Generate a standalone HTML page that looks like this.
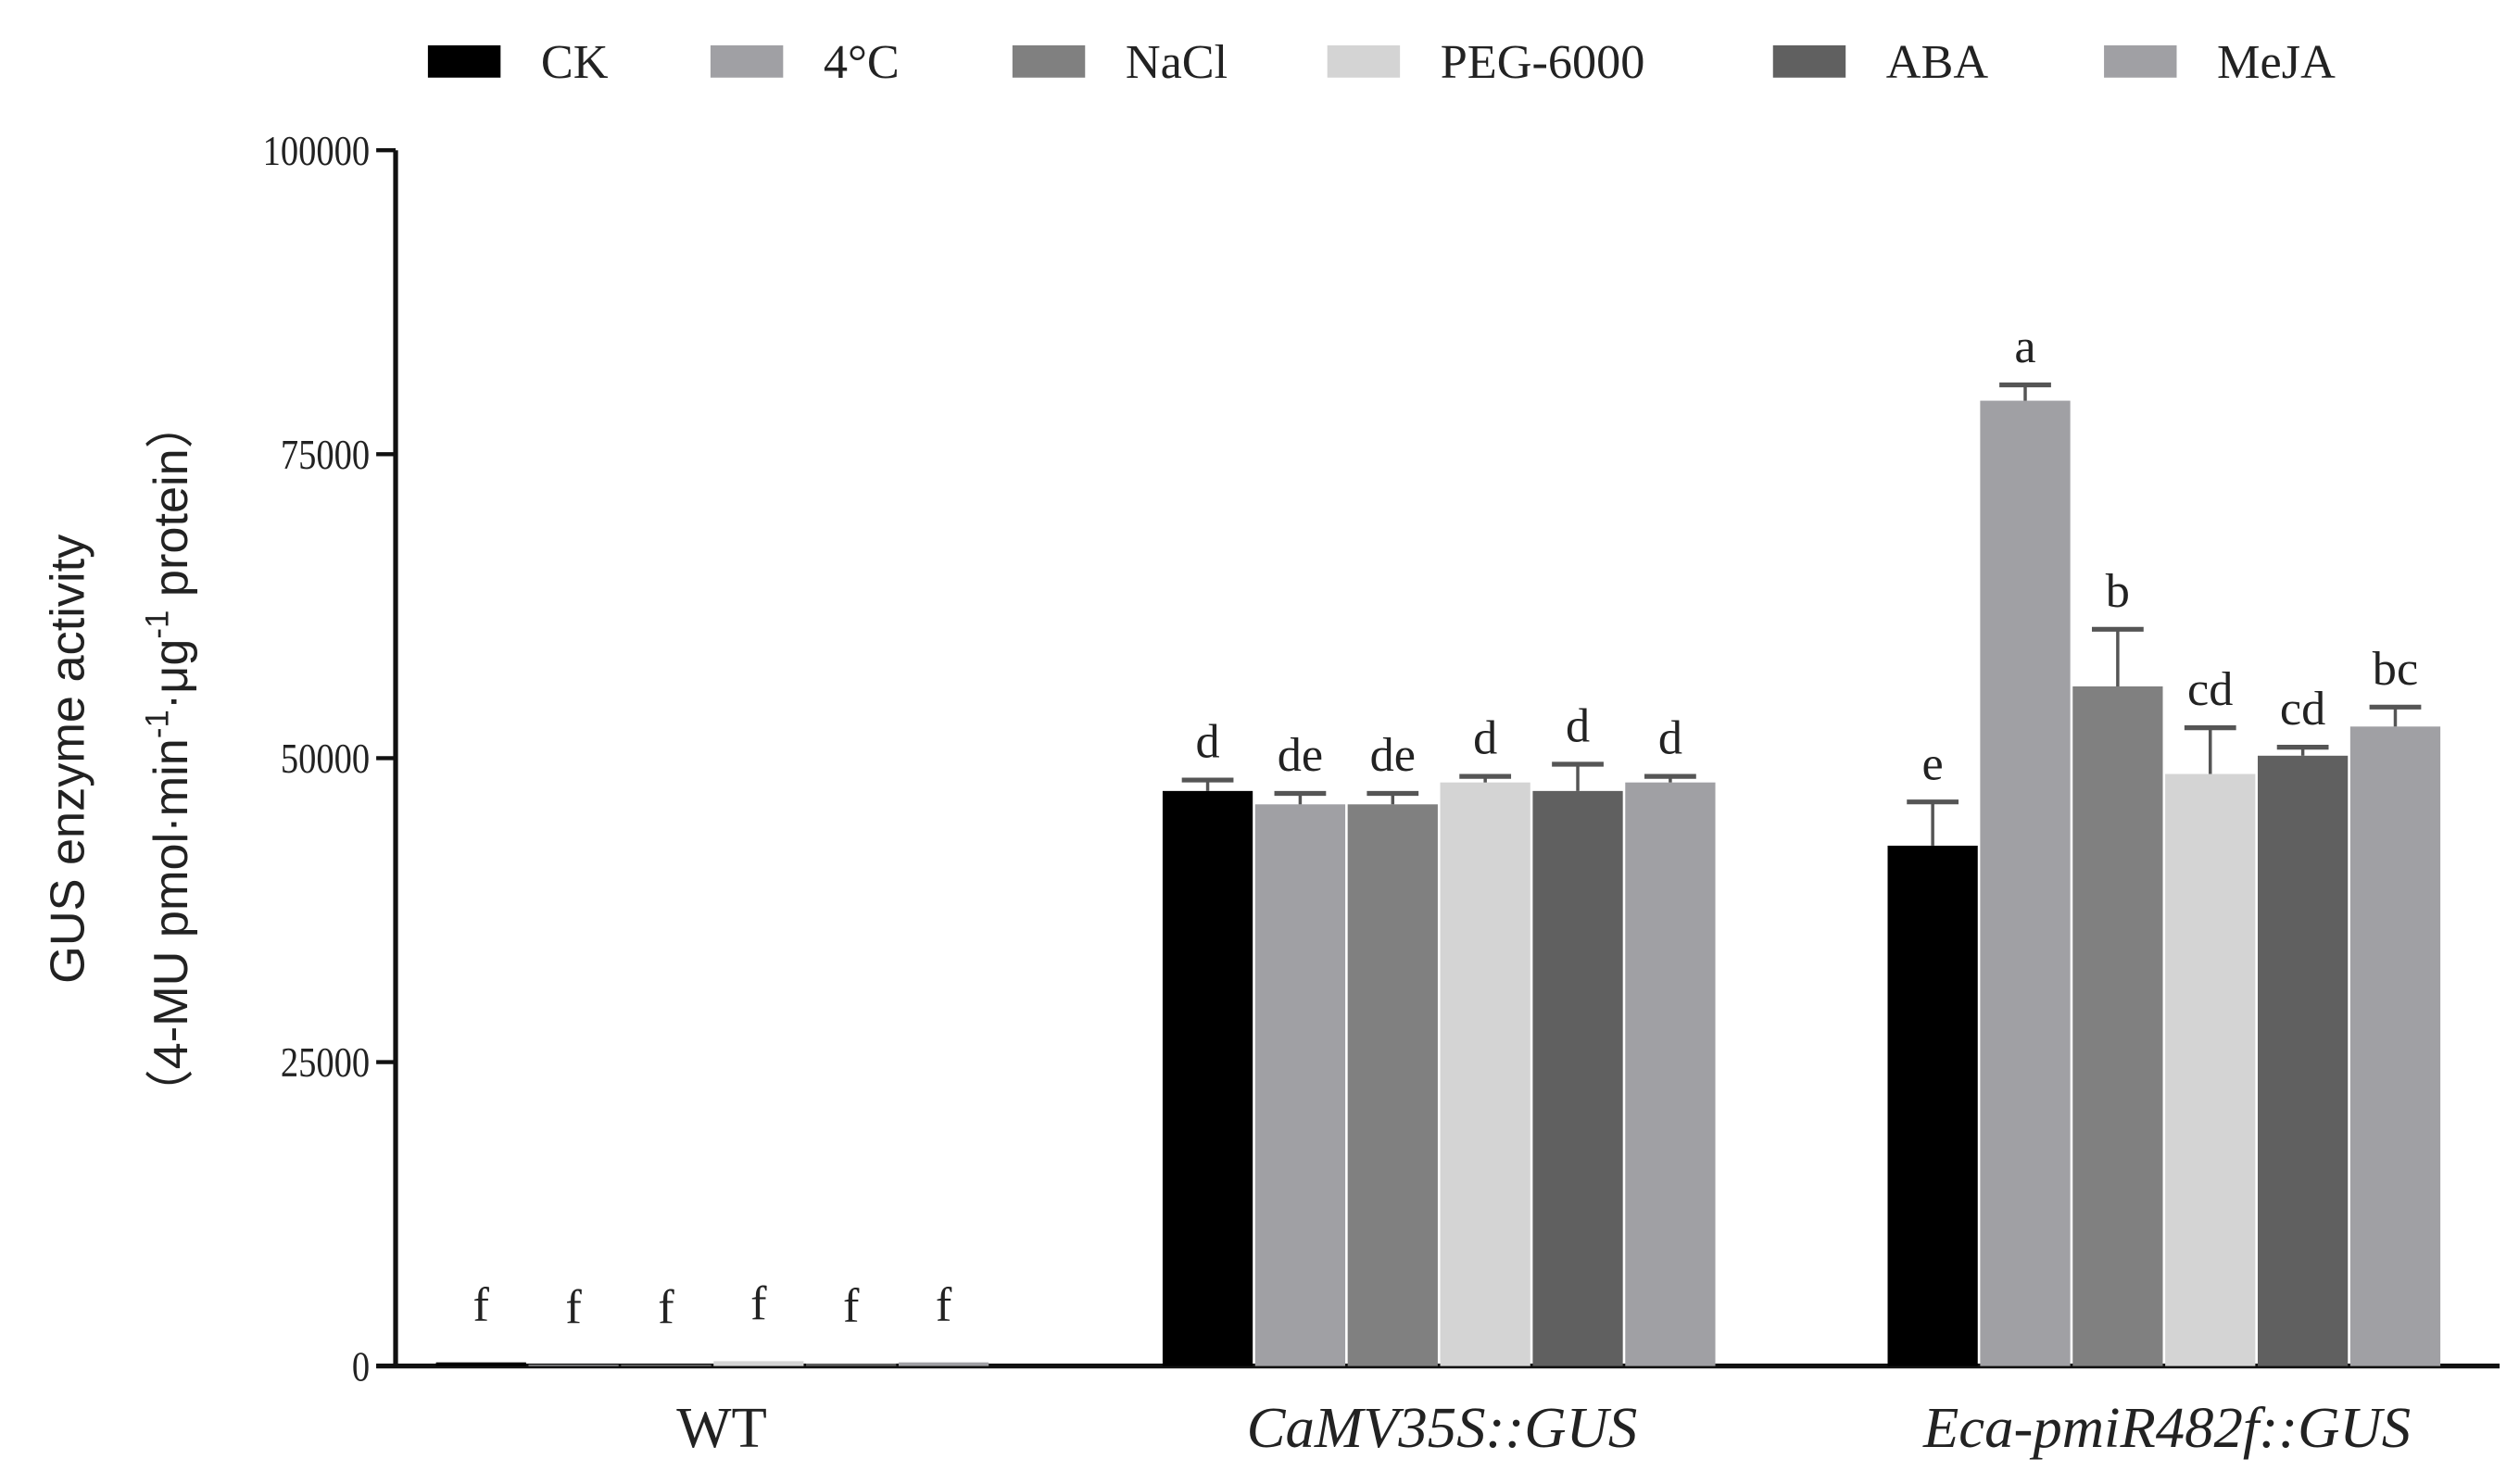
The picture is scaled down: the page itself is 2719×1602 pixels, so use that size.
<!DOCTYPE html>
<html><head><meta charset="utf-8"><style>
html,body{margin:0;padding:0;background:#fff;}
svg{display:block;}
text{font-family:"Liberation Serif",serif;fill:#222;}
</style></head><body>
<svg id="chart" width="2719" height="1602" viewBox="0 0 1560 919" xmlns="http://www.w3.org/2000/svg">
<g id="legend"></g>
<g id="axes"></g>
<g id="bars"></g>
<text transform="translate(52,470) rotate(-90)" text-anchor="middle" style="font-family:'Liberation Sans',sans-serif;font-size:30px">GUS  enzyme activity</text>
<text transform="translate(116,470) rotate(-90)" text-anchor="middle" style="font-family:'Liberation Sans','Noto Sans CJK SC',sans-serif;font-size:30px">（4-MU pmol·min<tspan dy="-12" font-size="20">-1</tspan><tspan dy="12">·μg</tspan><tspan dy="-12" font-size="20">-1</tspan><tspan dy="12"> protein）</tspan></text>
</svg>
<script>
const categories = ["WT", "CaMV35S::GUS", "Eca-pmiR482f::GUS"];
const treatments = ["CK", "4°C", "NaCl", "PEG-6000", "ABA", "MeJA"];
const valuesWT = [300, 100, 100, 400, 200, 300];
const valuesCaMV = [47300, 46200, 46200, 48000, 47300, 48000];
const valuesEca = [42800, 79400, 55900, 48700, 50200, 52600];
const errWT = [0, 0, 0, 0, 0, 0];
const errCaMV = [900, 900, 900, 500, 2200, 500];
const errEca = [3600, 1300, 4700, 3800, 700, 1600];
const lettersWT = ["f","f","f","f","f","f"];
const lettersCaMV = ["d","de","de","d","d","d"];
const lettersEca = ["e","a","b","cd","cd","bc"];
const yTicks = [0, 25000, 50000, 75000, 100000];

const colors = ["#000000","#a0a0a4","#808080","#d4d4d4","#606060","#a0a0a4"];
const NS = "http://www.w3.org/2000/svg";
const X0 = 245, X1 = 1548, Y0 = 846, Ytop = 93, YMAX = 100000;
const y = v => Y0 - (v / YMAX) * (Y0 - Ytop);
const groupStart = [270, 720, 1169], barW = 57.3;
const xBar = (g, i) => groupStart[g] + i * barW;
function mk(tag, attrs, parent){const e=document.createElementNS(NS,tag);for(const k in attrs)e.setAttribute(k,attrs[k]);parent.appendChild(e);return e;}

const axes = document.getElementById('axes');
let yl = mk('line',{x1:X0,y1:Ytop,x2:X0,y2:Y0,stroke:'#111','stroke-width':3},axes);


let xl = mk('line',{x1:X0-12,y1:Y0,x2:X1,y2:Y0,stroke:'#111','stroke-width':3},axes);


yTicks.forEach(t=>{
  const tk = mk('line',{x1:X0-12,y1:y(t),x2:X0,y2:y(t),stroke:'#111','stroke-width':2.5},axes);
  
  
  const tx = mk('text',{x:X0-16,y:y(t)+9,'text-anchor':'end','font-size':26,transform:`translate(${X0-16},0) scale(0.85,1) translate(${-(X0-16)},0)`},axes);
  tx.textContent = t;
  
  
});
const catX = [447, 893, 1342];
categories.forEach((c,i)=>{
  const tx = mk('text',{x:catX[i],y:896,'text-anchor':'middle','font-size':36,'font-style':i>0?'italic':'normal'},axes);
  tx.textContent = c;
  
  
});

const bars = document.getElementById('bars');
const vals = [valuesWT, valuesCaMV, valuesEca], errs = [errWT, errCaMV, errEca], lets = [lettersWT, lettersCaMV, lettersEca];
vals.forEach((vs,g)=>{
  vs.forEach((v,i)=>{
    const x = xBar(g,i);
    const r = mk('rect',{x:x,y:y(v),width:barW-1.5,height:Y0-y(v),fill:colors[i]},bars);
    
    
    const cx = x + (barW-1.5)/2, et = y(v+errs[g][i]);
    if (errs[g][i] > 0) {
      const e1 = mk('line',{x1:cx,y1:y(v),x2:cx,y2:et,stroke:'#555','stroke-width':2},bars);
      
      
      const e2 = mk('line',{x1:cx-16,y1:et,x2:cx+16,y2:et,stroke:'#555','stroke-width':3},bars);
      
      
    }
    const lt = mk('text',{x:cx,y:et-(errs[g][i]>0?14:26),'text-anchor':'middle','font-size':30},bars);
    lt.textContent = lets[g][i];
    
    
  });
});

const legend = document.getElementById('legend');
const lgX = [265, 440, 627, 822, 1098, 1303];
treatments.forEach((t,i)=>{
  const b = mk('rect',{x:lgX[i],y:28,width:45,height:20,fill:colors[i]},legend);
  
  
  const tx = mk('text',{x:lgX[i]+70,y:48,'font-size':30},legend);
  tx.textContent = t;
  
  
});
</script>
</body></html>
